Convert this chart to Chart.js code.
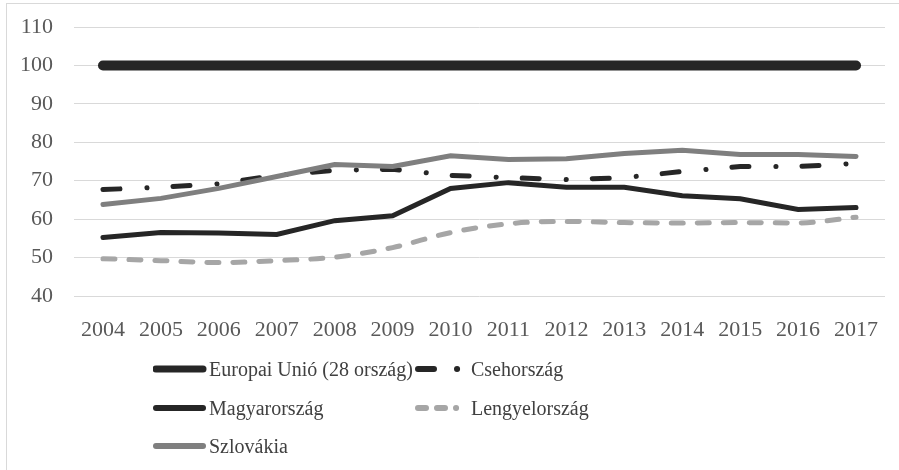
<!DOCTYPE html>
<html>
<head>
<meta charset="utf-8">
<script src="https://cdn.jsdelivr.net/npm/chart.js@4.4.1/dist/chart.umd.min.js"></script>
<style>
    html, body { margin: 0; padding: 0; background: #fff; }
    #wrap { position: relative; width: 899px; height: 470px; overflow: hidden; }
    #frame { position: absolute; left: 6px; top: 3px; width: 920px; height: 500px; border-left: 1px solid #d9d9d9; border-top: 1px solid #d9d9d9; }
    #chart { position: absolute; left: 0; top: 0; }
    .item { position: absolute; height: 30px; display: flex; align-items: center; font-family: 'Liberation Serif', serif; font-size: 20px; color: #404040; white-space: nowrap; }
    .item svg { display: block; flex: none; margin-right: 2px; }
</style>
</head>
<body>
<div id="wrap">
    <div id="frame"></div>
    <canvas id="chart" width="899" height="470"></canvas>
    <div id="legend"></div>
</div>
<script>
// Évek és sorozatok
const years = ['2004', '2005', '2006', '2007', '2008', '2009', '2010', '2011', '2012', '2013', '2014', '2015', '2016', '2017'];
const euValues = [100, 100, 100, 100, 100, 100, 100, 100, 100, 100, 100, 100, 100, 100];
const czValues = [67.7, 68.3, 69.2, 71.4, 72.7, 73.0, 71.4, 70.8, 70.3, 70.8, 72.4, 73.7, 73.7, 74.5];
const huValues = [55.2, 56.5, 56.4, 56.0, 59.6, 60.9, 68.0, 69.5, 68.3, 68.3, 66.1, 65.3, 62.5, 63.0];
const plValues = [49.7, 49.2, 48.7, 49.2, 50.1, 52.6, 56.5, 58.8, 59.4, 59.1, 59.0, 59.1, 59.0, 60.5];
const skValues = [63.8, 65.4, 68.0, 71.1, 74.2, 73.7, 76.5, 75.5, 75.7, 77.1, 77.9, 76.8, 76.8, 76.3];
const seriesNames = ['Europai Unió (28 ország)', 'Csehország', 'Magyarország', 'Lengyelország', 'Szlovákia'];

const tickFont = { family: "'Liberation Serif', serif", size: 22 };

const chart = new Chart(document.getElementById('chart'), {
    type: 'line',
    data: {
        labels: years,
        datasets: [
            { label: seriesNames[0], data: euValues, borderColor: '#262626', borderWidth: 10, borderCapStyle: 'round' },
            { label: seriesNames[2], data: huValues, borderColor: '#262626', borderWidth: 5, borderCapStyle: 'round' },
            { label: seriesNames[4], data: skValues, borderColor: '#7f7f7f', borderWidth: 5, borderCapStyle: 'round' },
            { label: seriesNames[1], data: czValues, borderColor: '#262626', borderWidth: 5, borderCapStyle: 'round', borderDash: [17, 27, 0.1, 26] },
            { label: seriesNames[3], data: plValues, borderColor: '#a6a6a6', borderWidth: 5, borderCapStyle: 'round', borderDash: [12, 14], cubicInterpolationMode: 'monotone' }
        ]
    },
    options: {
        responsive: false,
        animation: false,
        layout: { padding: { left: 0, top: 27, right: 14, bottom: 134 } },
        elements: { point: { radius: 0 }, line: { tension: 0 } },
        plugins: { legend: { display: false }, tooltip: { enabled: false } },
        scales: {
            x: {
                offset: true,
                grid: { display: false },
                border: { display: false },
                ticks: { color: '#595959', font: tickFont, padding: 13, maxRotation: 0 },
                afterFit: (axis) => { axis.height = 40; }
            },
            y: {
                min: 40,
                max: 110,
                grid: { color: '#d9d9d9', lineWidth: 1, drawTicks: false },
                border: { display: false },
                ticks: { stepSize: 10, color: '#595959', font: tickFont, padding: 21 },
                afterFit: (axis) => {
                    axis.width = 74;
                    // a fix szélesség miatt túl nagy felső/alsó margót számolna
                    axis.paddingTop = 0;
                    axis.paddingBottom = 0;
                }
            }
        }
    }
});

// Jelmagyarázat (kézi elrendezés, két oszlop)
const legendItems = [
    { name: seriesNames[0], x: 153, y: 354, color: '#262626', width: 7, dash: '' },
    { name: seriesNames[1], x: 415, y: 354, color: '#262626', width: 6, dash: '16 23 0.1 40' },
    { name: seriesNames[2], x: 153, y: 393, color: '#262626', width: 6, dash: '' },
    { name: seriesNames[3], x: 415, y: 393, color: '#a6a6a6', width: 6, dash: '8 11 8 11 0.1 40' },
    { name: seriesNames[4], x: 153, y: 431, color: '#7f7f7f', width: 6, dash: '' }
];
const legendEl = document.getElementById('legend');
legendItems.forEach(item => {
    const div = document.createElement('div');
    div.className = 'item';
    div.style.left = item.x + 'px';
    div.style.top = item.y + 'px';
    const dashAttr = item.dash ? ` stroke-dasharray="${item.dash}"` : '';
    div.innerHTML = `<svg width="54" height="14"><line x1="3" y1="7" x2="${item.dash ? 51 : 50}" y2="7" stroke="${item.color}" stroke-width="${item.width}" stroke-linecap="round"${dashAttr}/></svg><span>${item.name}</span>`;
    legendEl.appendChild(div);
});
</script>
</body>
</html>
